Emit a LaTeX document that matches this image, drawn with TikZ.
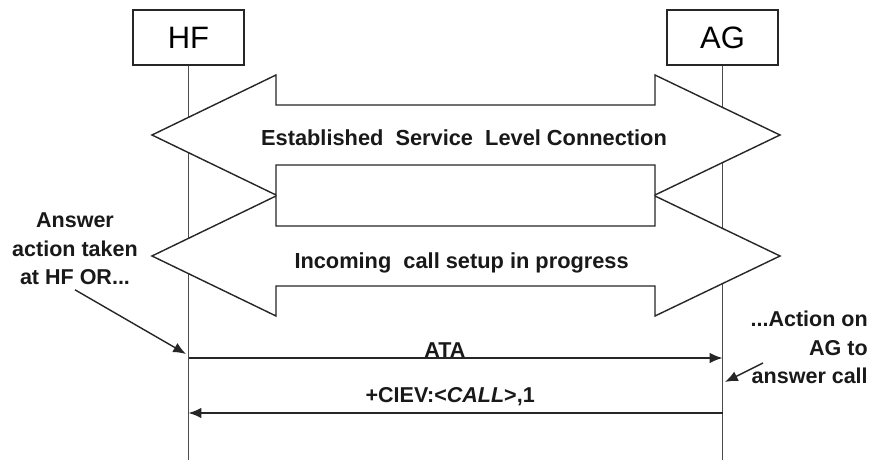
\documentclass[tikz,border=0pt]{standalone}
\usepackage{fontspec}
\setmainfont{Liberation Sans}
\usetikzlibrary{arrows.meta,calc}

\begin{document}
\begin{tikzpicture}[
		entity/.style={draw=black!85, line width=1pt, minimum width=2.775cm, minimum height=1.375cm, inner sep=0, font=\fontsize{22}{26}\selectfont},
		life/.style={draw=black!70, line width=1.3pt},
		block/.style={draw=black!85, line width=1pt, fill=white},
		msg/.style={draw=black!85, line width=1pt, -{Latex[length=3.2mm,width=2.6mm]}},
		lbl/.style={text=black!90, font=\fontsize{15.3}{20.3}\selectfont\bfseries}
	]
		\useasboundingbox (0,0) rectangle (21.85,-11.5);
		\node[entity] (HF) at (4.7125,-0.9375) {HF};
		\node[entity] (AG) at (18.0625,-0.9375) {AG};
		\coordinate (bot) at (0,-11.5);
		\coordinate (ata) at (0,-8.95);
		\coordinate (ciev) at (0,-10.325);
%		
		\draw[life] (HF) -- (HF |- bot);
		\draw[life] (AG) -- (AG |- bot);
%		
		\coordinate (slc) at (3.8,-3.375);
		\draw[block] (slc) -- ++(3.1,1.5) -- ++(0,-0.75) -- ++(9.475,0) -- ++(0,0.75) -- ++(3.125,-1.5)
			-- ++(-3.125,-1.5) -- ++(0,0.75) -- ++(-9.475,0) -- ++(0,-0.75) -- cycle;
		\node[lbl, font=\fontsize{15.5}{18}\selectfont\bfseries] (slctext) at (11.6,-3.45) {Established\ \ Service\ \ Level Connection};
		\coordinate (setup) at (3.8,-6.4);
		\draw[block] (setup) -- ++(3.1,1.5) -- ++(0,-0.75) -- ++(9.475,0) -- ++(0,0.75) -- ++(3.125,-1.5)
			-- ++(-3.125,-1.5) -- ++(0,0.75) -- ++(-9.475,0) -- ++(0,-0.75) -- cycle;
		\node[lbl, font=\fontsize{15.5}{18}\selectfont\bfseries] (setuptext) at (11.54,-6.575) {Incoming\ \ call setup in progress};
%		
		\draw[msg] (HF |- ata) -- node[lbl, pos=0.48, anchor=base, inner sep=0] (atalbl) {ATA} (AG |- ata);
		\draw[msg] (AG |- ciev) -- node[lbl, pos=0.51, anchor=base, inner sep=0, yshift=0.275cm] (cievlbl) {+CIEV:<\textit{CALL}>,1} (HF |- ciev);
%		
		\node[lbl, align=center] (hfnote) at (1.875,-6.22) {Answer\\action taken\\at HF OR...};
		\coordinate (hfans) at (4.65,-8.85);
		\draw[msg] (hfnote.south) -- (hfans);
		\node[lbl, align=right, anchor=east, inner sep=0] (agnote) at (21.7,-8.69) {...Action on\\AG to\\answer call};
		\coordinate (agans) at (19.075,-9.075);
		\coordinate (agcall) at (18.125,-9.55);
		\draw[msg] (agans) -- (agcall);
	\end{tikzpicture}
\end{document}
